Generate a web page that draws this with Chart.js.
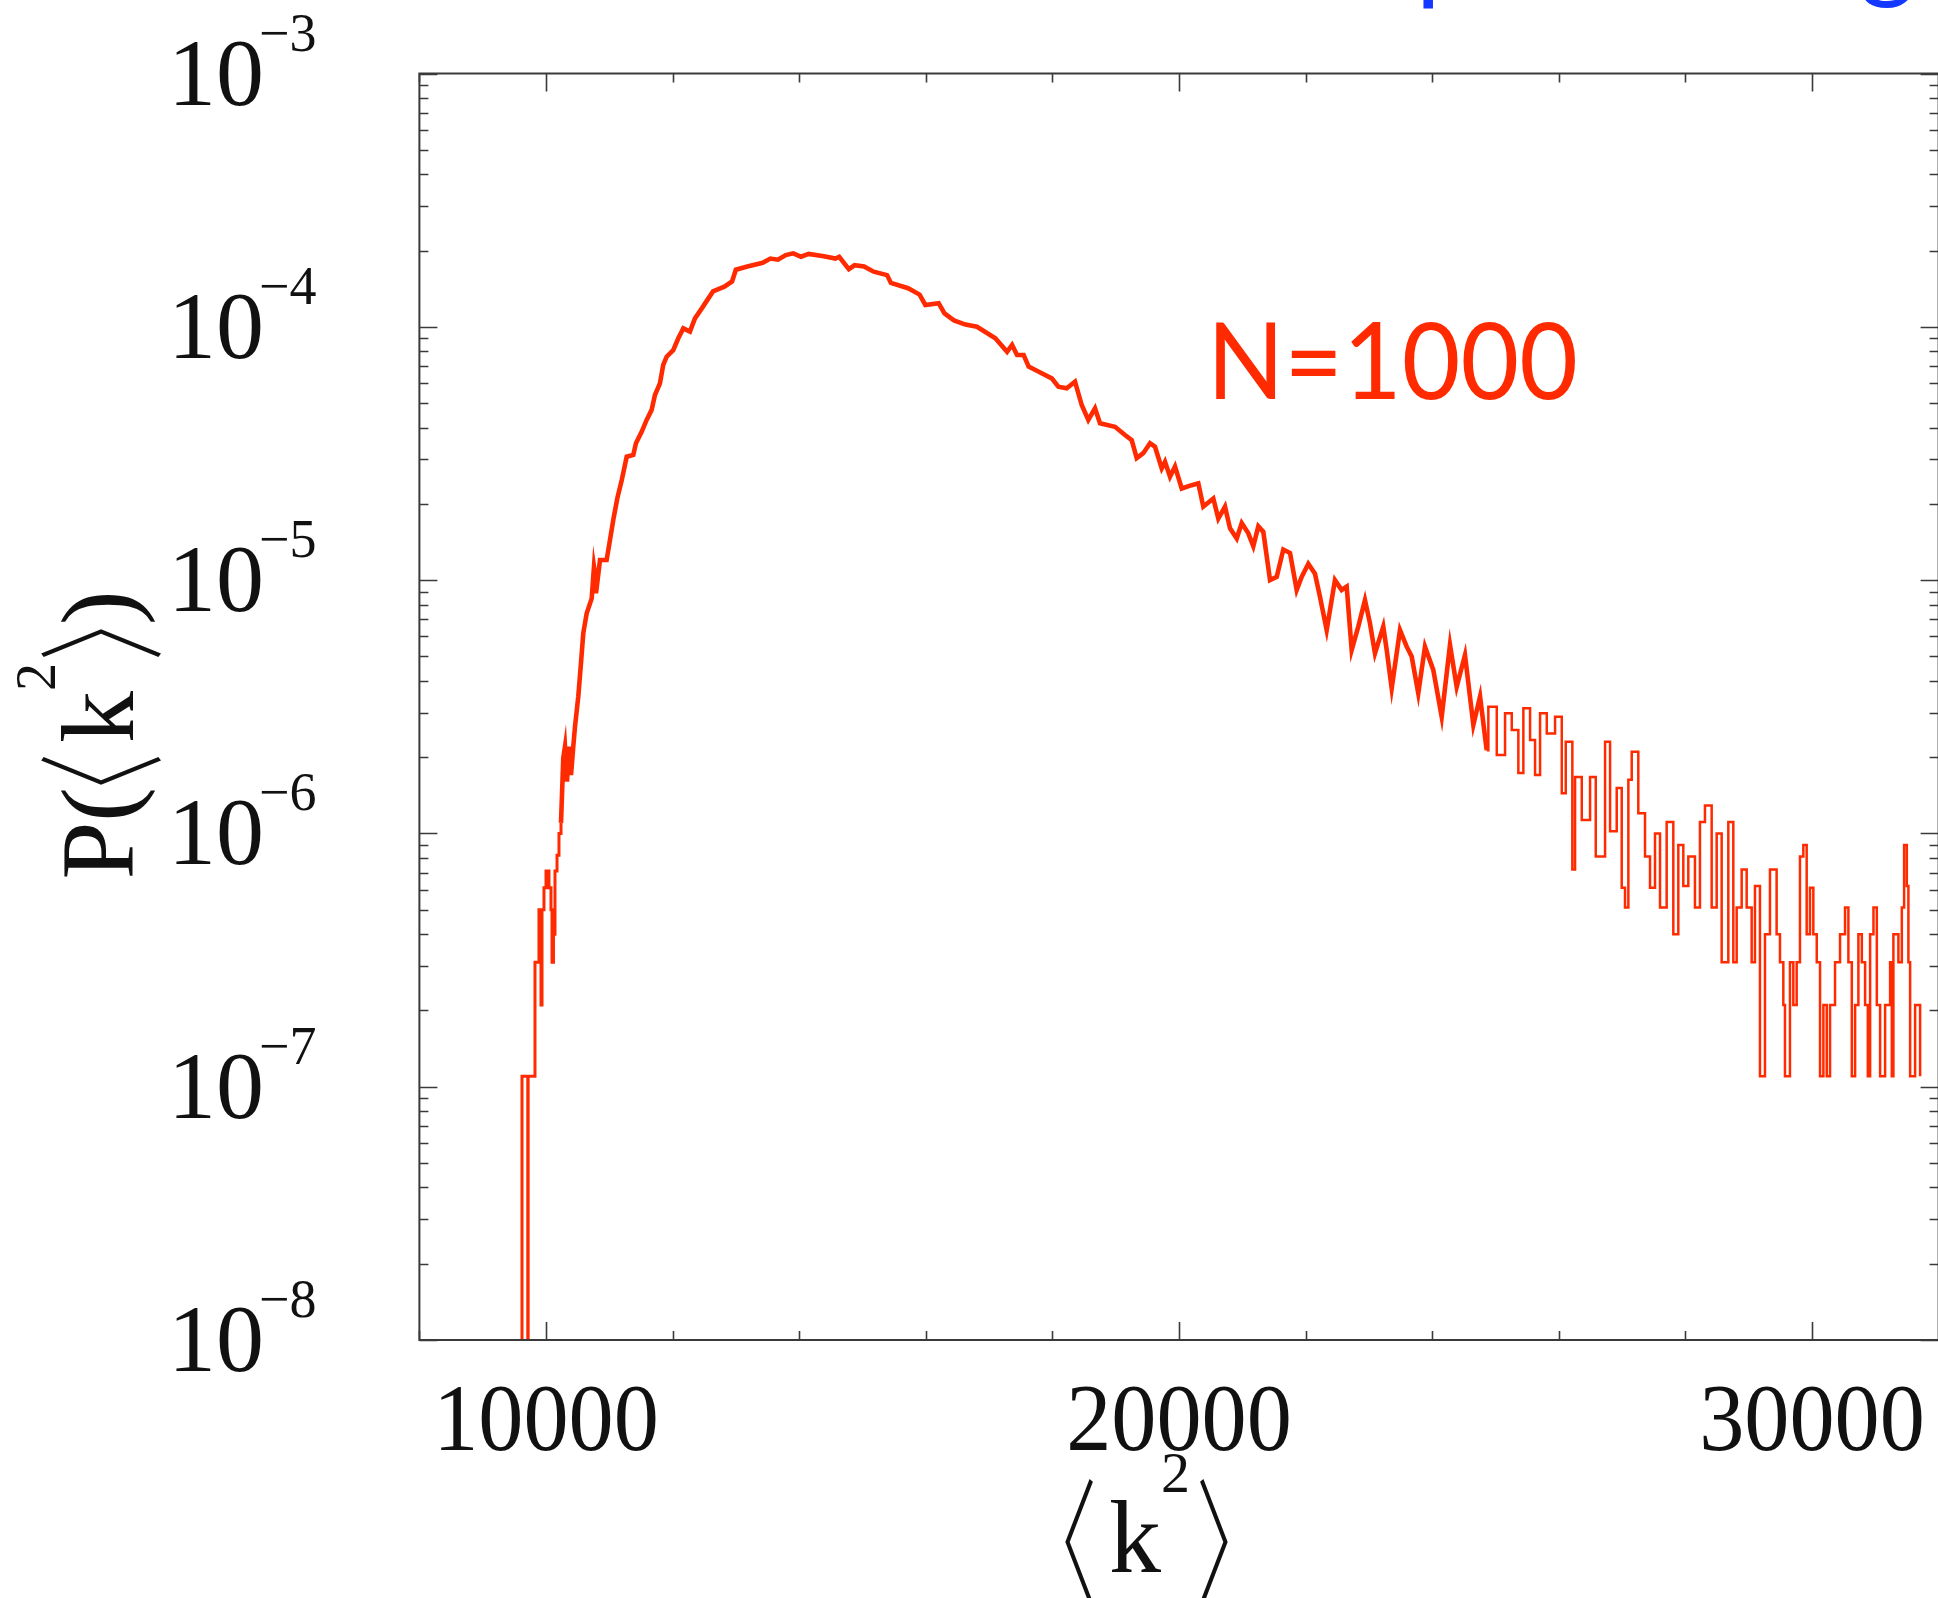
<!DOCTYPE html>
<html>
<head>
<meta charset="utf-8">
<title>P(k2) N=1000</title>
<script src="https://cdn.jsdelivr.net/npm/chart.js@4.4.1/dist/chart.umd.min.js"></script>
<style>
  html, body { margin: 0; padding: 0; background: #fff; overflow: hidden; }
  canvas { display: block; }
</style>
</head>
<body>
<canvas id="histChart" width="1940" height="1598"></canvas>
<script>
// histogram of <k^2> (bin left edge, probability)
const riseX = [9600, 9621, 9712, 9718, 9826, 9889, 9921, 9937, 9968, 10000, 10047, 10079, 10095, 10118, 10142, 10174, 10205, 10237];
const riseY = [0, 1.1e-7, 0, 1.1e-7, 3.1e-7, 5.0e-7, 2.1e-7, 5.0e-7, 6.1e-7, 7.1e-7, 6.1e-7, 5.0e-7, 3.1e-7, 4.0e-7, 7.1e-7, 8.2e-7, 1.0e-6, 1.1e-6];

const bodyX = [10237, 10273, 10300, 10332, 10363, 10395, 10431, 10458, 10510, 10548, 10589, 10643, 10722, 10758, 10774, 10790,
  10853, 10958, 11011, 11063, 11126, 11196, 11275, 11379, 11421, 11511, 11590, 11669, 11721, 11800, 11852, 11906,
  12010, 12090, 12169, 12274, 12353, 12459, 12516, 12638, 12818, 12939, 12999, 13181, 13423, 13545, 13665, 13787,
  13907, 14029, 14149, 14390, 14572, 14632, 14784, 14875, 15025, 15177, 15388, 15449, 15720, 15902, 15993, 16203,
  16295, 16445, 16627, 16808, 17099, 17284, 17363, 17442, 17546, 17625, 17731, 17990, 18094, 18226, 18357, 18463,
  18567, 18673, 18752, 18989, 19147, 19253, 19332, 19436, 19542, 19621, 19727, 19779, 19858, 19937, 20043, 20201,
  20305, 20384, 20542, 20621, 20727, 20806, 20912, 20991, 21095, 21174, 21253, 21332, 21438, 21544, 21648, 21754,
  21859, 21938, 22043, 22148, 22227, 22333, 22464, 22570, 22649, 22728, 22832, 22938, 23017, 23096, 23227, 23281,
  23360, 23491, 23597, 23676, 23780, 23886, 24017, 24150, 24281, 24387, 24518, 24650, 24756, 24861];
const bodyY = [1.1e-6, 1.98e-6, 2.2e-6, 1.6e-6, 2.2e-6, 1.7e-6, 2.2e-6, 2.64e-6, 3.47e-6, 4.55e-6, 6.17e-6, 7.4e-6, 8.47e-6, 1.13e-5, 1.06e-5, 8.87e-6,
  1.2e-5, 1.2e-5, 1.44e-5, 1.73e-5, 2.10e-5, 2.48e-5, 3.07e-5, 3.12e-5, 3.47e-5, 3.85e-5, 4.29e-5, 4.70e-5, 5.38e-5, 5.98e-5, 7.07e-5, 7.62e-5,
  8.09e-5, 9.01e-5, 9.86e-5, 9.57e-5, 1.08e-4, 1.18e-4, 1.24e-4, 1.38e-4, 1.44e-4, 1.51e-4, 1.68e-4, 1.73e-4, 1.79e-4, 1.86e-4, 1.84e-4, 1.92e-4,
  1.95e-4, 1.89e-4, 1.94e-4, 1.90e-4, 1.86e-4, 1.89e-4, 1.69e-4, 1.75e-4, 1.73e-4, 1.65e-4, 1.60e-4, 1.49e-4, 1.42e-4, 1.34e-4, 1.22e-4, 1.24e-4,
  1.13e-4, 1.06e-4, 1.02e-4, 1.00e-4, 9.01e-5, 7.97e-5, 8.48e-5, 7.74e-5, 7.74e-5, 6.96e-5, 6.75e-5, 6.26e-5, 5.80e-5, 5.72e-5, 6.07e-5, 4.91e-5,
  4.29e-5, 4.77e-5, 4.16e-5, 4.03e-5, 3.74e-5, 3.57e-5, 3.03e-5, 3.17e-5, 3.47e-5, 3.36e-5, 2.76e-5, 2.93e-5, 2.56e-5, 2.81e-5, 2.30e-5, 2.37e-5,
  2.41e-5, 1.95e-5, 2.10e-5, 1.75e-5, 1.95e-5, 1.60e-5, 1.46e-5, 1.68e-5, 1.53e-5, 1.36e-5, 1.63e-5, 1.55e-5, 1.00e-5, 1.03e-5, 1.32e-5, 1.28e-5,
  9.14e-6, 1.03e-5, 1.16e-5, 1.06e-5, 8.59e-6, 6.35e-6, 1.00e-5, 9.14e-6, 9.42e-6, 5.30e-6, 6.55e-6, 8.34e-6, 6.75e-6, 5.14e-6, 6.55e-6, 5.30e-6,
  3.74e-6, 6.35e-6, 5.46e-6, 4.99e-6, 3.57e-6, 5.46e-6, 4.42e-6, 2.89e-6, 5.55e-6, 3.79e-6, 5.06e-6, 2.68e-6, 3.47e-6, 2.13e-6];

const tailX = [24861, 24887, 25020, 25151, 25257, 25361, 25440, 25546, 25625, 25704, 25810, 25941, 26047, 26110, 26214, 26257,
  26363, 26494, 26584, 26731, 26810, 26915, 26994, 27046, 27099, 27152, 27256, 27362, 27441, 27520, 27599, 27704,
  27809, 27888, 27967, 28046, 28151, 28230, 28309, 28415, 28494, 28573, 28678, 28757, 28810, 28889, 28968, 29047,
  29099, 29178, 29257, 29336, 29441, 29494, 29547, 29573, 29652, 29705, 29758, 29810, 29863, 29916, 29968, 30021,
  30075, 30127, 30180, 30233, 30285, 30364, 30443, 30522, 30575, 30629, 30681, 30733, 30787, 30839, 30882, 30918,
  30971, 31024, 31076, 31155, 31234, 31261, 31286, 31365, 31419, 31455, 31498, 31523, 31550, 31629, 31708];
const tailY = [2.13e-6, 3.16e-6, 2.04e-6, 2.98e-6, 2.56e-6, 1.73e-6, 3.12e-6, 2.34e-6, 1.70e-6, 2.98e-6, 2.48e-6, 2.89e-6, 1.44e-6, 2.30e-6, 7.2e-7, 1.67e-6,
  1.13e-6, 1.67e-6, 8.1e-7, 2.30e-6, 1.02e-6, 1.51e-6, 6.1e-7, 5.1e-7, 1.63e-6, 2.10e-6, 1.20e-6, 8.1e-7, 6.1e-7, 1.00e-6, 5.1e-7, 1.11e-6,
  4.0e-7, 9.0e-7, 6.2e-7, 8.1e-7, 5.1e-7, 1.11e-6, 1.29e-6, 5.1e-7, 1.00e-6, 3.1e-7, 1.11e-6, 3.1e-7, 5.1e-7, 7.2e-7, 5.1e-7, 3.1e-7,
  6.2e-7, 1.1e-7, 4.0e-7, 7.2e-7, 4.0e-7, 3.1e-7, 2.1e-7, 1.1e-7, 3.1e-7, 2.1e-7, 3.1e-7, 8.1e-7, 9.0e-7, 4.0e-7, 6.1e-7, 4.0e-7,
  3.1e-7, 1.1e-7, 2.1e-7, 1.1e-7, 2.1e-7, 3.1e-7, 4.0e-7, 5.1e-7, 3.1e-7, 1.1e-7, 2.1e-7, 4.0e-7, 3.1e-7, 2.1e-7, 1.1e-7, 4.0e-7,
  5.1e-7, 2.1e-7, 1.1e-7, 2.1e-7, 3.1e-7, 1.1e-7, 4.0e-7, 3.1e-7, 5.1e-7, 9.0e-7, 6.2e-7, 3.1e-7, 1.1e-7, 2.1e-7, 1.1e-7];

// axis ticks
const xLabelValues = [10000, 20000, 30000];
const xMinorStep = 2000;
const yDecades = [-3, -4, -5, -6, -7, -8];

const RED = '#ff2a00';
const INK = '#111';
const SERIF = '"Liberation Serif", "Times New Roman", serif';
const BRACKET = '300 80px "Noto Sans CJK JP", "DejaVu Sans", sans-serif';

const toPoints = (xs, ys) => xs.map((x, i) => ({ x: x, y: ys[i] }));

// draws text pieces one after another, returns total width.
// ink pieces are placed by their ink box: top/h give ink top (from baseline) and height.
function drawPieces(ctx, pieces, x, y, measureOnly) {
    let cx = x;
    pieces.forEach(p => {
        ctx.font = p.font;
        const m = ctx.measureText(p.t);
        if (p.ink) {
            const inkW = m.actualBoundingBoxLeft + m.actualBoundingBoxRight;
            const inkH = m.actualBoundingBoxAscent + m.actualBoundingBoxDescent;
            const sy = p.h / inkH;
            if (!measureOnly) {
                ctx.save();
                ctx.translate(cx + m.actualBoundingBoxLeft, y + p.top + m.actualBoundingBoxAscent * sy);
                ctx.scale(1, sy);
                ctx.fillText(p.t, 0, 0);
                ctx.restore();
            }
            cx += inkW + (p.after || 0);
        } else {
            if (!measureOnly) ctx.fillText(p.t, cx, y + (p.dy || 0));
            cx += m.width + (p.after || 0);
        }
    });
    return cx - x;
}

const frameAndLabels = {
    id: 'frameAndLabels',
    afterDatasetsDraw(chart) {
        const { ctx, chartArea: a, scales: { x, y } } = chart;
        ctx.save();

        // frame
        ctx.strokeStyle = '#3a3a3a';
        ctx.lineWidth = 2;
        ctx.strokeRect(a.left, a.top, a.right - a.left, a.bottom - a.top);

        // inward ticks
        ctx.lineWidth = 1.6;
        ctx.beginPath();
        for (let v = x.min; v <= x.max; v += xMinorStep) {
            const px = Math.round(x.getPixelForValue(v)) + 0.5;
            const len = v % 10000 === 0 ? 18 : 9;
            ctx.moveTo(px, a.bottom); ctx.lineTo(px, a.bottom - len);
            ctx.moveTo(px, a.top); ctx.lineTo(px, a.top + len);
        }
        yDecades.forEach(e => {
            for (let m = 1; m <= 9; m++) {
                const v = m * Math.pow(10, e);
                if (v > y.max * 1.0001) break;
                const py = Math.round(y.getPixelForValue(v)) + 0.5;
                const len = m === 1 ? 18 : 9;
                ctx.moveTo(a.left, py); ctx.lineTo(a.left + len, py);
                ctx.moveTo(a.right, py); ctx.lineTo(a.right - len, py);
            }
        });
        ctx.stroke();

        ctx.fillStyle = INK;
        ctx.textBaseline = 'alphabetic';

        // y tick labels 10^e
        yDecades.forEach(e => {
            const py = y.getPixelForValue(Math.pow(10, e));
            ctx.textAlign = 'right';
            ctx.font = '96px ' + SERIF;
            ctx.fillText('10', 264, py + 31);
            ctx.textAlign = 'left';
            ctx.font = '54px ' + SERIF;
            ctx.fillText('\u2212' + (-e), 259, py - 23);
        });

        // x tick labels
        ctx.textAlign = 'center';
        ctx.font = '96px ' + SERIF;
        xLabelValues.forEach(v => {
            const px = x.getPixelForValue(v);
            ctx.save();
            ctx.translate(px, 1450);
            ctx.scale(0.94, 1);
            ctx.fillText(String(v), 0, 0);
            ctx.restore();
        });

        // axis titles
        ctx.textAlign = 'left';
        const xTitle = [
            { t: '\u3008', font: BRACKET, ink: true, top: -92, h: 126, after: 16 },
            { t: 'k', font: '104px ' + SERIF },
            { t: '2', font: '58px ' + SERIF, dy: -80, after: 10 },
            { t: '\u3009', font: BRACKET, ink: true, top: -92, h: 126 }
        ];
        drawPieces(ctx, xTitle, 1065, 1572);

        const yTitle = [
            { t: 'P(', font: '104px ' + SERIF, after: 2 },
            { t: '\u3008', font: BRACKET, ink: true, top: -92, h: 120, after: 14 },
            { t: 'k', font: '104px ' + SERIF },
            { t: '2', font: '56px ' + SERIF, dy: -78, after: 6 },
            { t: '\u3009', font: BRACKET, ink: true, top: -92, h: 120, after: 4 },
            { t: ')', font: '104px ' + SERIF }
        ];
        ctx.save();
        ctx.translate(133, 735);
        ctx.rotate(-Math.PI / 2);
        const w = drawPieces(ctx, yTitle, 0, 0, true);
        drawPieces(ctx, yTitle, -w / 2, 0);
        ctx.restore();

        // annotation
        ctx.fillStyle = RED;
        ctx.font = '106px Lato, "Open Sans", sans-serif';
        ctx.save();
        ctx.translate(1207, 399);
        ctx.scale(0.955, 1);
        ctx.fillText('N=1000', 0, 0);
        ctx.restore();

        // cut-off slide text at the top edge
        ctx.fillStyle = '#1438ff';
        ctx.fillText('p', 1416, -10);
        ctx.fillText('g', 1860, -12);

        ctx.restore();
    }
};

const lineStyle = { borderColor: RED, borderWidth: 2.5, pointRadius: 0, fill: false, tension: 0, parsing: false };

new Chart(document.getElementById('histChart'), {
    type: 'line',
    data: {
        datasets: [
            { ...lineStyle, data: toPoints(riseX, riseY), stepped: true, borderWidth: 3 },
            { ...lineStyle, data: toPoints(bodyX, bodyY), borderWidth: 4.6 },
            { ...lineStyle, data: toPoints(tailX, tailY), stepped: true }
        ]
    },
    options: {
        responsive: false,
        animation: false,
        devicePixelRatio: 1,
        layout: { padding: { left: 419.4, top: 73.5, right: 1.4, bottom: 258 } },
        plugins: { legend: { display: false }, tooltip: { enabled: false } },
        scales: {
            x: { type: 'linear', min: 8000, max: 32000, display: false },
            y: { type: 'logarithmic', min: 1e-8, max: 1e-3, display: false }
        }
    },
    plugins: [frameAndLabels]
});
</script>
</body>
</html>
